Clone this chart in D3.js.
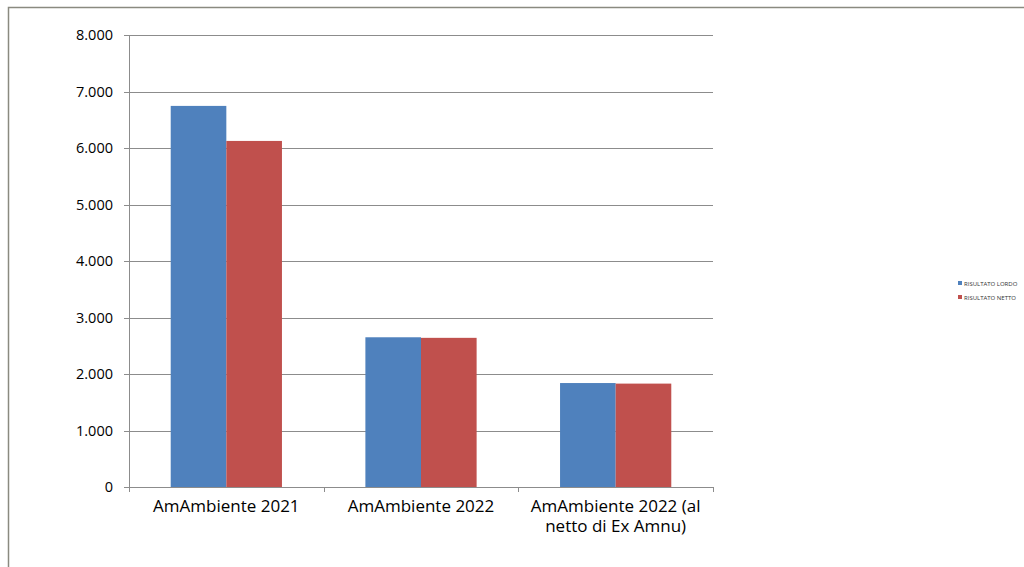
<!DOCTYPE html>
<html>
<head>
<meta charset="utf-8">
<script src="https://cdn.jsdelivr.net/npm/d3@7"></script>
<style>
body { margin: 0; background: #fff; }
text { font-family: "Open Sans", sans-serif; fill: #000; }
</style>
</head>
<body>
<svg width="1024" height="567"></svg>
<script>
// data
var categories = [['AmAmbiente 2021'], ['AmAmbiente 2022'], ['AmAmbiente 2022 (al', 'netto di Ex Amnu)']]
var series_names = ['RISULTATO LORDO', 'RISULTATO NETTO']
var lordo = [6745, 2650, 1840]
var netto = [6125, 2640, 1830]
var colors = ['#4f81bd', '#c0504d']
var y_ticks = [0, 1000, 2000, 3000, 4000, 5000, 6000, 7000, 8000]

var svg = d3.select('svg')

// outer frame (only top and left visible)
svg.append('path')
    .attr('d', 'M8.5,567 L8.5,7.5 L1024,7.5')
    .attr('fill', 'none')
    .attr('stroke', '#8a8a80')
    .attr('stroke-width', 1.5)

var plot_left = 129, plot_right = 713, plot_top = 35, plot_bottom = 487

var y = d3.scaleLinear().domain([0, 8000]).range([plot_bottom, plot_top])
var x = d3.scaleBand().domain(d3.range(categories.length)).range([plot_left, plot_right])
var bw = x.bandwidth() / 3.5
var it = d3.formatLocale({decimal: ',', thousands: '.', grouping: [3], currency: ['€', '']})
var fmt = it.format(',.0f')

// gridlines
svg.append('g').selectAll('line')
    .data(y_ticks)
    .join('line')
    .attr('x1', plot_left - 5)
    .attr('x2', plot_right)
    .attr('y1', function(d){ return Math.round(y(d)) + 0.5 })
    .attr('y2', function(d){ return Math.round(y(d)) + 0.5 })
    .attr('stroke', '#8c8c8c')
    .attr('stroke-width', 1)

svg.append('g').selectAll('text')
    .data(y_ticks)
    .join('text')
    .attr('x', 113)
    .attr('y', function(d){ return y(d) + 5 })
    .attr('text-anchor', 'end')
    .style('font-size', '14.5px')
    .text(function(d){ return fmt(d) })

// bars
var all = [lordo, netto]
all.forEach(function(vals, s){
    svg.append('g').selectAll('rect')
        .data(vals)
        .join('rect')
        .attr('x', function(d, i){ return x(i) + bw * 0.75 + s * bw })
        .attr('width', bw)
        .attr('y', function(d){ return y(d) })
        .attr('height', function(d){ return plot_bottom - y(d) })
        .attr('fill', colors[s])
})

// axes lines
svg.append('line')
    .attr('x1', plot_left + 0.5).attr('x2', plot_left + 0.5)
    .attr('y1', plot_top).attr('y2', plot_bottom)
    .attr('stroke', '#8c8c8c')
svg.append('line')
    .attr('x1', plot_left).attr('x2', plot_right)
    .attr('y1', plot_bottom + 0.5).attr('y2', plot_bottom + 0.5)
    .attr('stroke', '#8c8c8c')

// category ticks
svg.append('g').selectAll('line')
    .data(d3.range(categories.length + 1))
    .join('line')
    .attr('x1', function(d){ return Math.round(plot_left + d * x.step()) + 0.5 })
    .attr('x2', function(d){ return Math.round(plot_left + d * x.step()) + 0.5 })
    .attr('y1', plot_bottom)
    .attr('y2', plot_bottom + 5)
    .attr('stroke', '#8c8c8c')

// category labels
var labels = svg.append('g').selectAll('text')
    .data(categories)
    .join('text')
    .attr('text-anchor', 'middle')
    .style('font-size', '17px')
labels.each(function(lines, i){
    var me = d3.select(this)
    lines.forEach(function(l, j){
        me.append('tspan')
            .attr('x', x(i) + x.bandwidth() / 2)
            .attr('y', 512 + j * 20)
            .text(l)
    })
})

// legend
series_names.forEach(function(n, s){
    var g = svg.append('g').attr('transform', 'translate(958,' + (281 + s * 14) + ')')
    g.append('rect').attr('width', 4).attr('height', 4).attr('fill', colors[s])
    g.append('text').attr('x', 6).attr('y', 4.5)
        .style('font-size', '6px')
        .style('fill', '#333')
        .text(n)
})
</script>
</body>
</html>
